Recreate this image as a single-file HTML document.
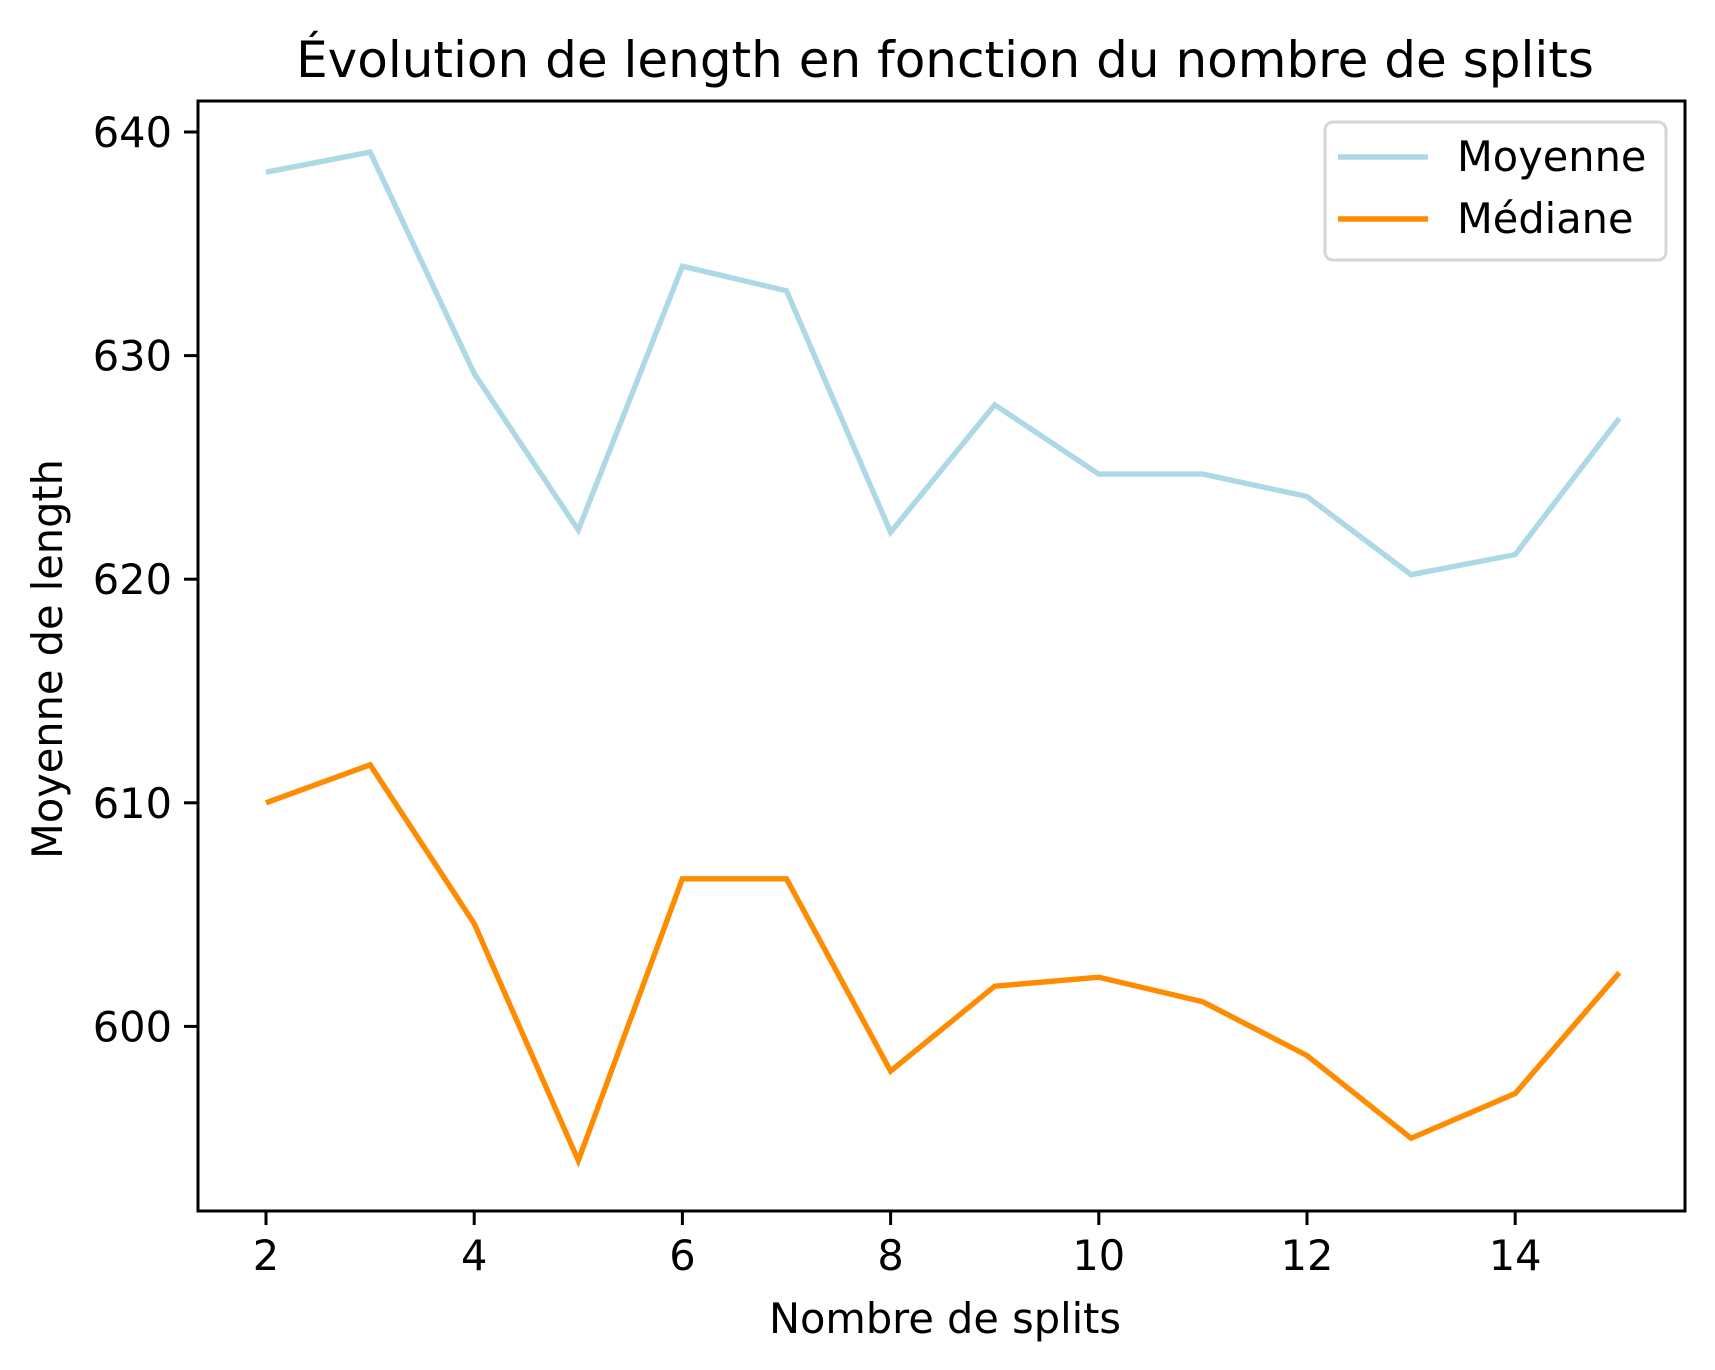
<!DOCTYPE html>
<html><head><meta charset="utf-8"><style>
html,body{margin:0;padding:0;background:#fff;}
svg{display:block;font-family:"DejaVu Sans","Liberation Sans",sans-serif;}
</style></head><body>
<svg id="chart" width="1715" height="1370" viewBox="0 0 1715 1370">
<text x="945" y="77" font-size="50" text-anchor="middle">Évolution de length en fonction du nombre de splits</text>
<g id="axes"></g>
<g id="series"></g>
<rect x="198" y="101" width="1487" height="1110" fill="none" stroke="#000" stroke-width="3"/>
<text x="945" y="1333" font-size="41.5" text-anchor="middle">Nombre de splits</text>
<text transform="translate(62,659) rotate(-90)" font-size="41.5" text-anchor="middle">Moyenne de length</text>
<g>
<rect x="1325" y="122" width="341" height="138" rx="8" fill="#fff" fill-opacity="0.8" stroke="#d6d6d6" stroke-width="3"/>
<line x1="1338" y1="157" x2="1428" y2="157" stroke="#add8e6" stroke-width="5.6"/>
<text x="1457" y="171" font-size="41.5">Moyenne</text>
<line x1="1338" y1="219" x2="1428" y2="219" stroke="#ff8c00" stroke-width="5.6"/>
<text x="1457" y="233" font-size="41.5">Médiane</text>
</g>
</svg>
<script>
const categories = [2,3,4,5,6,7,8,9,10,11,12,13,14,15];
const moyenne = [638.2,639.1,629.2,622.2,634.0,632.9,622.1,627.8,624.7,624.7,623.7,620.2,621.1,627.2];
const mediane = [610.0,611.7,604.6,594.0,606.6,606.6,598.0,601.8,602.2,601.1,598.7,595.0,597.0,602.4];
const xTicks = [2,4,6,8,10,12,14];
const yTicks = [600,610,620,630,640];

const NS = "http://www.w3.org/2000/svg";
function xs(v){ return 266 + (v - 2) * 104.1; }
function ys(v){ return 132 + (640 - v) * 22.36; }
const axes = document.getElementById('axes');
const series = document.getElementById('series');
function mk(tag, attrs, parent){
  const e = document.createElementNS(NS, tag);
  for (const k in attrs) e.setAttribute(k, attrs[k]);
  parent.appendChild(e);
  return e;
}
xTicks.forEach(function(t){
  const l = mk('line', {x1: xs(t), x2: xs(t), y1: 1211, y2: 1225, stroke: '#000', 'stroke-width': 3}, axes);
  
  
  const tx = mk('text', {x: xs(t), y: 1270, 'font-size': 41.5, 'text-anchor': 'middle'}, axes);
  tx.textContent = t;
  
  
});
yTicks.forEach(function(t){
  const l = mk('line', {x1: 184, x2: 198, y1: ys(t), y2: ys(t), stroke: '#000', 'stroke-width': 3}, axes);
  
  
  const tx = mk('text', {x: 172, y: ys(t) + 15, 'font-size': 41.5, 'text-anchor': 'end'}, axes);
  tx.textContent = t;
  
  
});
function drawLine(vals, color, name){
  const pts = vals.map(function(v, i){ return xs(categories[i]).toFixed(1) + ',' + ys(v).toFixed(1); }).join(' ');
  const p = mk('polyline', {points: pts, fill: 'none', stroke: color, 'stroke-width': 5.4, 'stroke-linejoin': 'miter'}, series);
  
  
}
drawLine(moyenne, '#add8e6', 'moyenne-line');
drawLine(mediane, '#ff8c00', 'mediane-line');
</script>
</body></html>
